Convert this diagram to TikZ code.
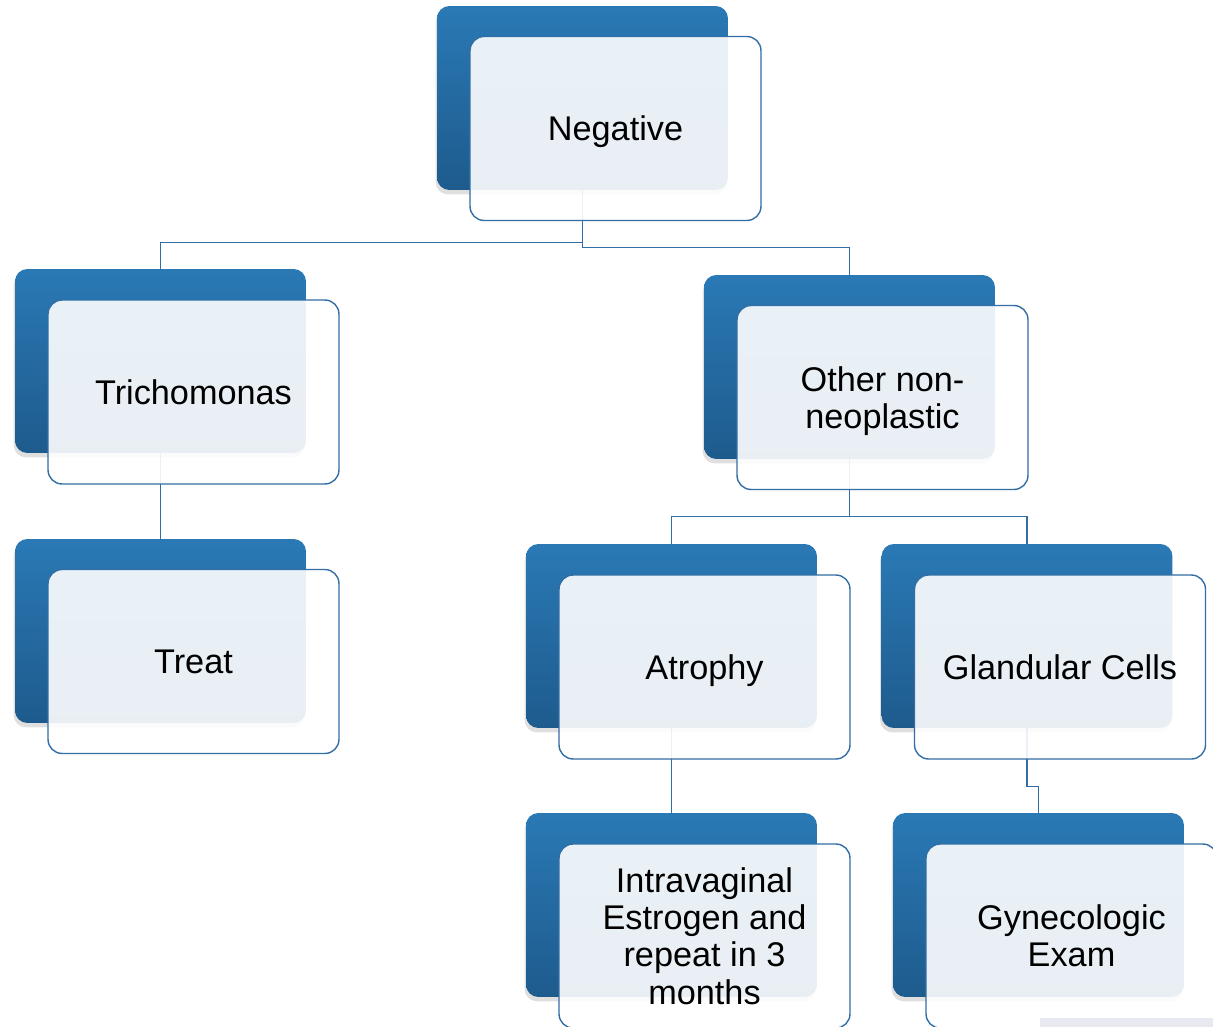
\documentclass[tikz,border=0pt]{standalone}
\usepackage{fontspec}
\setmainfont{Liberation Sans}
\usepackage{tikz}
\usetikzlibrary{shadows}

\definecolor{boxtop}{RGB}{42,121,181}
\definecolor{boxbot}{RGB}{30,91,141}
\definecolor{edge}{RGB}{50,110,165}

\tikzset{
  back/.style={rounded corners=7pt, minimum width=5.82cm, minimum height=3.68cm, inner sep=0pt,
    top color=boxtop, bottom color=boxbot, draw=none,
    drop shadow={shadow xshift=-0.8pt, shadow yshift=-2.5pt, opacity=0.25}},
  front/.style={rounded corners=8pt, minimum width=5.82cm, minimum height=3.68cm, inner sep=0pt,
    draw=edge, line width=0.8pt, fill=white, fill opacity=0.9, text opacity=1,
    align=center, font=\fontsize{19.5}{21.3}\selectfont},
  nodepth/.style={text depth=0pt},
  link/.style={draw=edge, line width=0.9pt}
}

\begin{document}
\begin{tikzpicture}[x=0.02cm,y=-0.02cm]
\useasboundingbox (0,0) rectangle (1213,1027);
\clip (0,0) rectangle (1213,1027);

% back boxes
\node[back] (neg) at (582.5,98) {};
\node[back] (tri) at (160.5,361) {};
\node[back] (treat) at (160.5,631) {};
\node[back] (other) at (849.5,367) {};
\node[back] (atro) at (671.5,636) {};
\node[back] (gland) at (1027,636) {};
\node[back] (estro) at (671.5,905) {};
\node[back] (gyn) at (1038.5,905) {};

% connectors
\draw[link] (neg.south) -- ++(0,52) -| (tri.north);
\draw[link] (neg.south) -- ++(0,57) -| (other.north);
\draw[link] (tri.south) -- (treat.north);
\draw[link] (other.south) -- ++(0,57) -| (atro.north);
\draw[link] (other.south) -- ++(0,57) -| (gland.north);
\draw[link] (atro.south) -- (estro.north);
\draw[link] (gland.south) -- ++(0,58) -| (gyn.north);

% front boxes
\node[front,nodepth] (negT) at (615.5,128.5) {Negative};
\node[front] (triT) at (193.5,392) {Trichomonas};
\node[front] (treatT) at (193.5,661.5) {Treat};
\node[front,nodepth] (otherT) at (882.5,397.5) {Other non-\\neoplastic};
\node[front,nodepth] (atroT) at (704.5,667) {Atrophy};
\node[front] (glandT) at (1060,667) {Glandular Cells};
\node[front] (estroT) at (704.5,936) {Intravaginal\\Estrogen and\\repeat in 3\\months};
\node[front] (gynT) at (1071.5,936) {Gynecologic\\Exam};

\fill[blue!20!gray!15] (1040,1018) rectangle (1213,1027);
\end{tikzpicture}
\end{document}
